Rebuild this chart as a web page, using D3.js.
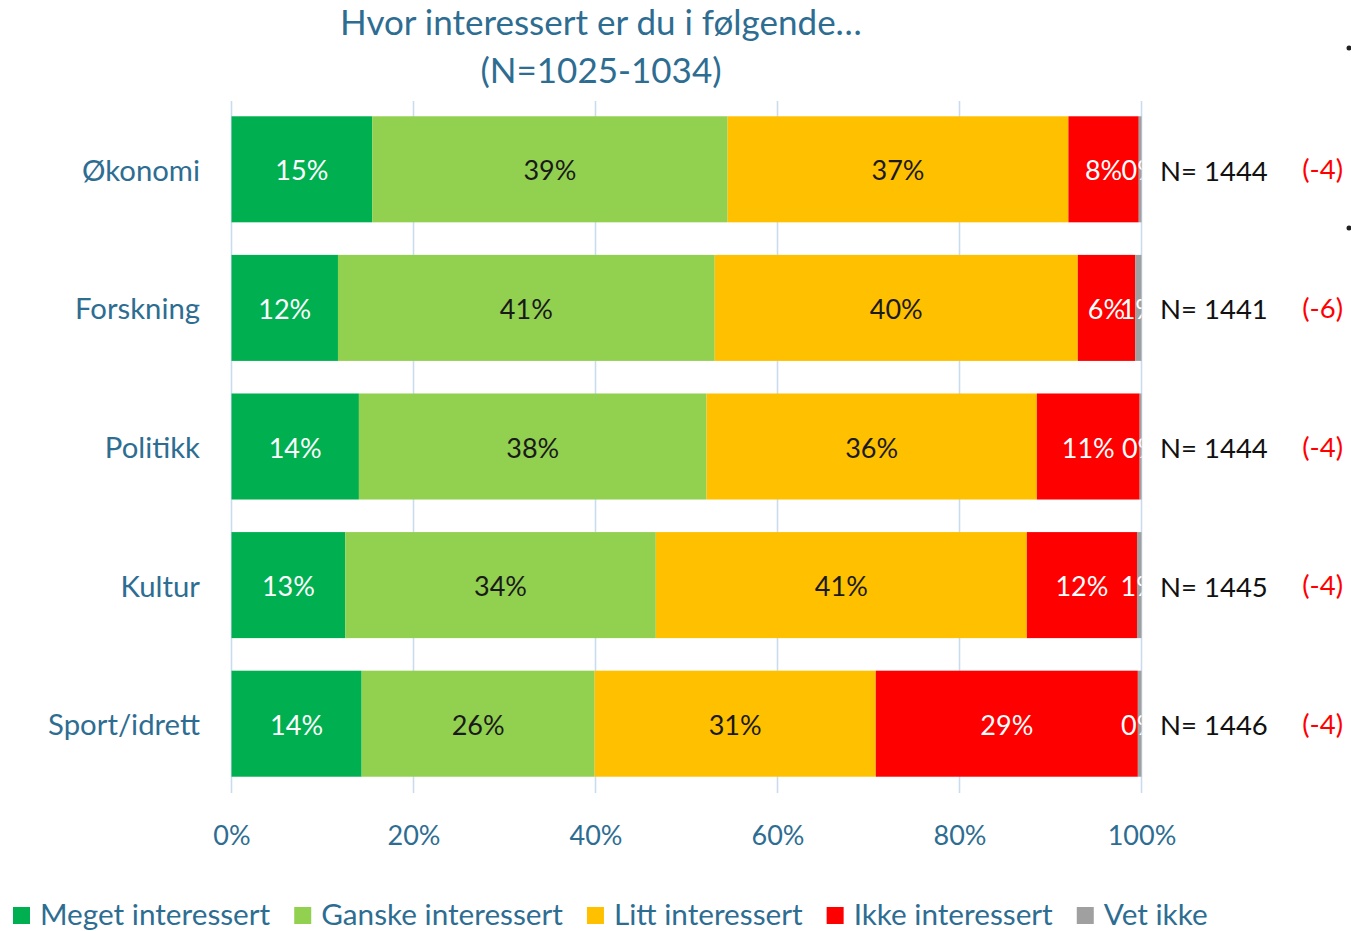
<!DOCTYPE html>
<head>
<meta charset="utf-8">
<style>
body { margin: 0; background: #fff; }
svg text { font-family: Lato, "Noto Sans", sans-serif; }
</style>
</head>
<body>
<div id="chart"></div>
<script src="https://cdn.jsdelivr.net/npm/d3@7"></script>
<script>
// categories, top to bottom
var categories = ["Økonomi", "Forskning", "Politikk", "Kultur", "Sport/idrett"];
var seriesNames = ["Meget interessert", "Ganske interessert", "Litt interessert", "Ikke interessert", "Vet ikke"];
var seriesColors = ["#00B050", "#92D050", "#FFC000", "#FF0000", "#A0A0A0"];
var labelColors = ["#fff", "#1a1a1a", "#1a1a1a", "#fff", "#fff"];

// percentages per category (rows do not sum exactly to 100, the chart normalises)
var meget  = [15.4, 11.7, 14.0, 12.6, 14.3];
var ganske = [38.9, 41.4, 38.2, 34.4, 25.6];
var litt   = [37.3, 39.9, 36.3, 41.1, 30.9];
var ikke   = [7.7, 6.3, 11.3, 12.2, 28.8];
var vetIkke = [0.3, 0.7, 0.2, 0.5, 0.4];

var nValues = [1444, 1441, 1444, 1445, 1446];
var nChange = [-4, -6, -4, -4, -4];
var xTicks = [0, 0.2, 0.4, 0.6, 0.8, 1];

var titleLines = ["Hvor interessert er du i følgende…", "(N=1025-1034)"];

var W = 1351, H = 931;
var blue = "#2E6D92";

var svg = d3.select("#chart").append("svg")
  .attr("width", W)
  .attr("height", H);

var x = d3.scaleLinear().domain([0, 1]).range([231.5, 1141.5]);
var y = d3.scaleBand().domain(categories).range([100, 793])
  .paddingInner(0.235).paddingOuter(0.1175);

// build rows
var series = [meget, ganske, litt, ikke, vetIkke];
var rows = categories.map(function (c, i) {
  var vals = series.map(function (s) { return s[i]; });
  var total = d3.sum(vals);
  var acc = 0;
  return vals.map(function (v, k) {
    var seg = { cat: c, k: k, value: v, x0: acc / total, x1: (acc + v) / total };
    acc += v;
    return seg;
  });
});
var segs = d3.merge(rows);

// title
svg.append("g").selectAll("text")
  .data(titleLines)
  .enter().append("text")
    .attr("x", 601)
    .attr("y", function (d, i) { return 35 + i * 48; })
    .attr("text-anchor", "middle")
    .attr("font-size", 35)
    .attr("fill", blue)
    .text(function (d) { return d; });

// gridlines
svg.append("g").selectAll("line")
  .data(xTicks)
  .enter().append("line")
    .attr("x1", function (d) { return x(d); })
    .attr("x2", function (d) { return x(d); })
    .attr("y1", 101)
    .attr("y2", 793)
    .attr("stroke", "#C9DCEE")
    .attr("stroke-width", 1.6);

// bars
svg.append("g").selectAll("rect")
  .data(segs)
  .enter().append("rect")
    .attr("x", function (d) { return x(d.x0); })
    .attr("y", function (d) { return y(d.cat); })
    .attr("width", function (d) { return x(d.x1) - x(d.x0); })
    .attr("height", y.bandwidth())
    .attr("fill", function (d) { return seriesColors[d.k]; });

// data labels, clipped to the plot area
svg.append("clipPath").attr("id", "plotclip")
  .append("rect")
    .attr("x", x(0)).attr("y", 90)
    .attr("width", x(1) - x(0)).attr("height", 720);

svg.append("g").attr("clip-path", "url(#plotclip)")
  .selectAll("text")
  .data(segs)
  .enter().append("text")
    .attr("x", function (d) { return (x(d.x0) + x(d.x1)) / 2; })
    .attr("y", function (d) { return y(d.cat) + y.bandwidth() / 2 + 11; })
    .attr("text-anchor", "middle")
    .attr("font-size", 27)
    .attr("fill", function (d) { return labelColors[d.k]; })
    .text(function (d) { return Math.round(d.value) + "%"; });

// category labels
svg.append("g").selectAll("text")
  .data(categories)
  .enter().append("text")
    .attr("x", 200)
    .attr("y", function (d) { return y(d) + y.bandwidth() / 2 + 11.5; })
    .attr("text-anchor", "end")
    .attr("font-size", 29.3)
    .attr("fill", blue)
    .text(function (d) { return d; });

// N and change labels
svg.append("g").selectAll("text")
  .data(categories)
  .enter().append("text")
    .attr("x", 1160)
    .attr("y", function (d) { return y(d) + y.bandwidth() / 2 + 11.5; })
    .attr("font-size", 27.5)
    .attr("fill", "#111")
    .text(function (d, i) { return "N= " + nValues[i]; });

svg.append("g").selectAll("text")
  .data(categories)
  .enter().append("text")
    .attr("x", 1343)
    .attr("y", function (d) { return y(d) + y.bandwidth() / 2 + 10; })
    .attr("text-anchor", "end")
    .attr("font-size", 27.5)
    .attr("fill", "#FF0000")
    .text(function (d, i) { return "(" + nChange[i] + ")"; });

// x axis
var xAxis = d3.axisBottom(x)
  .tickValues(xTicks)
  .tickFormat(d3.format(".0%"))
  .tickSize(0)
  .tickPadding(0);

var ax = svg.append("g")
  .attr("transform", "translate(0,845)")
  .call(xAxis);
ax.select(".domain").remove();
ax.selectAll("text")
  .attr("dy", 0)
  .attr("y", 0)
  .attr("font-size", 27)
  .attr("font-family", "Lato, 'Noto Sans', sans-serif")
  .attr("fill", blue);

// legend
var legend = svg.append("g");
var lx = 13;
seriesNames.forEach(function (name, k) {
  legend.append("rect")
    .attr("x", lx).attr("y", 907)
    .attr("width", 17).attr("height", 17)
    .attr("fill", seriesColors[k]);
  var t = legend.append("text")
    .attr("x", lx + 27).attr("y", 925)
    .attr("font-size", 29.7)
    .attr("fill", blue)
    .text(name);
  lx += 27 + t.node().getComputedTextLength() + 24;
});

// stray bullet marks at the right edge of the slide
svg.append("g").selectAll("circle")
  .data([48, 228])
  .enter().append("circle")
    .attr("cx", 1349)
    .attr("cy", function (d) { return d; })
    .attr("r", 2.5)
    .attr("fill", "#222");
</script>
</body>
